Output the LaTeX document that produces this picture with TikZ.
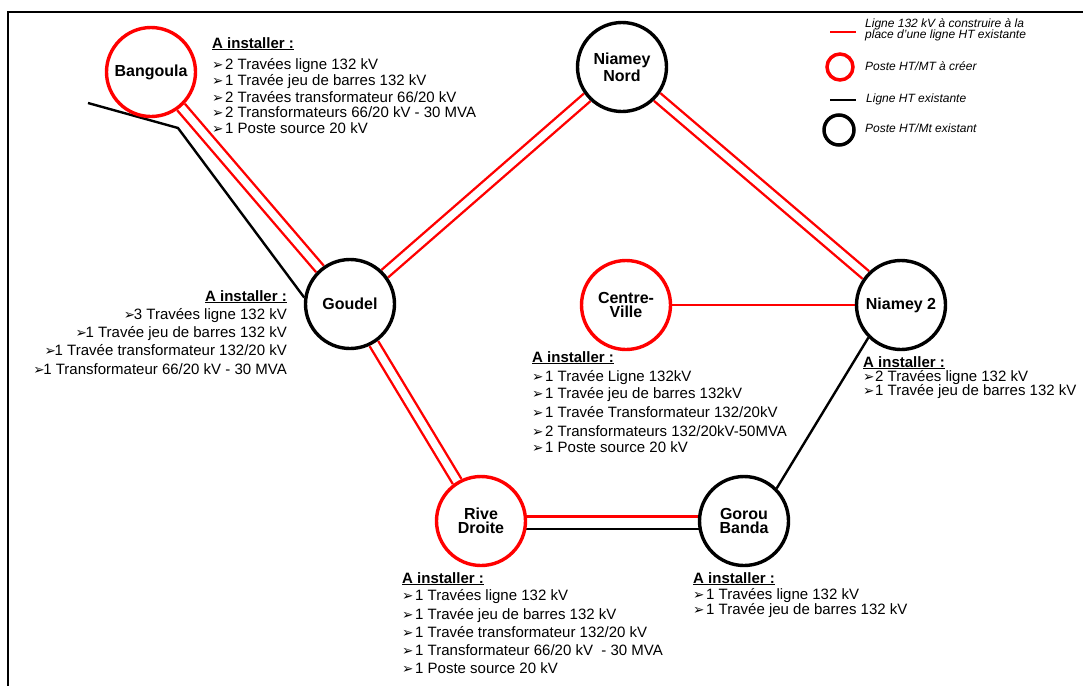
\documentclass[tikz,border=0pt]{standalone}
\usepackage{fontspec}
\setmainfont{Liberation Sans}
\newfontfamily\dejavu{DejaVu Sans}
\usetikzlibrary{backgrounds}
\newcommand{\arrglyph}{{\dejavu\fontsize{13.5}{13.5}\selectfont ➢}}
\newcommand{\itemarrow}[2][13pt]{\makebox[#1][l]{\arrglyph}#2}
\begin{document}
\begin{tikzpicture}[x=1pt,y=-1pt,
  station/.style={circle, line width=3.4pt, fill=white, minimum size=89pt, inner sep=0pt, align=center, font=\bfseries\fontsize{16}{14.5}\selectfont},
  newst/.style={station, draw=red},
  oldst/.style={station, draw=black},
  redl/.style={draw=red, line width=2.4pt},
  blackl/.style={draw=black, line width=2.4pt},
  dbl/.style={draw=red, line width=2.4pt, double=white, double distance=7.5pt},
  ttl/.style={anchor=base west, inner sep=0pt, font=\bfseries\fontsize{15}{15}\selectfont},
  ttlr/.style={ttl, anchor=base east},
  itm/.style={anchor=base west, inner sep=0pt, font=\fontsize{15}{15}\selectfont},
  itmr/.style={itm, anchor=base east},
  leg/.style={anchor=base west, inner sep=0pt, font=\itshape\fontsize{12}{12}\selectfont}]
\useasboundingbox (0,0) rectangle (1083,686);
% frame
\coordinate (fr1) at (1083,12);
\coordinate (fr2) at (8,12);
\coordinate (fr3) at (8,686);
\draw[line width=2pt] (fr1) -- (fr2) -- (fr3);

% stations
\node[newst] (BG) at (151,72) {Bangoula};
\node[oldst, font=\bfseries\fontsize{16}{17}\selectfont] (NN) at (622,67) {Niamey\\Nord};
\node[oldst] (GO) at (350,304) {Goudel};
\node[newst] (CV) at (626,305) {Centre-\\Ville};
\node[oldst] (N2) at (901,305) {Niamey 2};
\node[newst] (RD) at (481,521) {Rive\\Droite};
\node[oldst] (GB) at (744,521) {Gorou\\Banda};

\coordinate (b1) at (88,103);
\coordinate (b2) at (178,128);

\begin{pgfonlayer}{background}
\draw[dbl] (BG) -- (GO);
\draw[dbl] (GO) -- (NN);
\draw[dbl] (NN) -- (N2);
\draw[dbl] (GO) -- (RD);
\draw[redl] (CV) -- (N2);
\draw[redl] ([yshift=4.5pt]RD.center) -- ([yshift=4.5pt]GB.center);
\draw[blackl] ([yshift=-8pt]RD.center) -- ([yshift=-8pt]GB.center);
\draw[blackl] (GB.45) -- (N2.225);
\draw[blackl] (b1) -- (b2) -- (GO.172);
\end{pgfonlayer}

% legend
\coordinate (l1a) at (830,32); \coordinate (l1b) at (856,32);
\draw[redl] (l1a) -- (l1b);
\node[circle, draw=red, line width=3.5pt, minimum size=26pt, inner sep=0pt] (lg2) at (840,67) {};
\coordinate (l3a) at (830,100); \coordinate (l3b) at (856,100);
\draw[blackl] (l3a) -- (l3b);
\node[circle, draw=black, line width=3.5pt, minimum size=30pt, inner sep=0pt] (lg4) at (839,130) {};
\node[leg] (lt1) at (865,27) {Ligne 132 kV à construire à la};
\node[leg] (lt1b) at (865,38) {place d’une ligne HT existante};
\node[leg] (lt2) at (865,70) {Poste HT/MT à créer};
\node[leg] (lt3) at (866,102) {Ligne HT existante};
\node[leg] (lt4) at (865,132) {Poste HT/Mt existant};

% Bangoula
\node[ttl] (bgT) at (212,48) {\underline{A installer :}};
\node[itm] (bg1) at (212,69) {\itemarrow{2 Travées ligne 132 kV}};
\node[itm] (bg2) at (212,85) {\itemarrow{1 Travée jeu de barres 132 kV}};
\node[itm] (bg3) at (212,102) {\itemarrow{2 Travées transformateur 66/20 kV}};
\node[itm] (bg4) at (212,117) {\itemarrow{2 Transformateurs 66/20 kV - 30 MVA}};
\node[itm] (bg5) at (212,133) {\itemarrow{1 Poste source 20 kV}};

% Goudel
\node[ttlr] (goT) at (287,301) {\underline{A installer :}};
\node[itmr] (go1) at (287,319) {\itemarrow[10pt]{3 Travées ligne 132 kV}};
\node[itmr] (go2) at (287,337) {\itemarrow[10pt]{1 Travée jeu de barres 132 kV}};
\node[itmr] (go3) at (287,355) {\itemarrow[10pt]{1 Travée transformateur 132/20 kV}};
\node[itmr] (go4) at (287,374) {\itemarrow[10pt]{1 Transformateur 66/20 kV - 30 MVA}};

% Centre-Ville
\node[ttl] (cvT) at (532,362) {\underline{A installer :}};
\node[itm] (cv1) at (532,381) {\itemarrow{1 Travée Ligne 132kV}};
\node[itm] (cv2) at (532,398) {\itemarrow{1 Travée jeu de barres 132kV}};
\node[itm] (cv3) at (532,417) {\itemarrow{1 Travée Transformateur 132/20kV}};
\node[itm] (cv4) at (532,436) {\itemarrow{2 Transformateurs 132/20kV-50MVA}};
\node[itm] (cv5) at (532,452) {\itemarrow{1 Poste source 20 kV}};

% Niamey 2
\node[ttl] (n2T) at (863,367) {\underline{A installer :}};
\node[itm] (n21) at (863,381) {\itemarrow[12pt]{2 Travées ligne 132 kV}};
\node[itm] (n22) at (863,395) {\itemarrow[12pt]{1 Travée jeu de barres 132 kV}};

% Rive Droite
\node[ttl] (rdT) at (402,583) {\underline{A installer :}};
\node[itm] (rd1) at (402,600) {\itemarrow{1 Travées ligne 132 kV}};
\node[itm] (rd2) at (402,619) {\itemarrow{1 Travée jeu de barres 132 kV}};
\node[itm] (rd3) at (402,637) {\itemarrow{1 Travée transformateur 132/20 kV}};
\node[itm] (rd4) at (402,655) {\itemarrow{1 Transformateur 66/20 kV\ \ - 30 MVA}};
\node[itm] (rd5) at (402,673) {\itemarrow{1 Poste source 20 kV}};

% Gorou Banda
\node[ttl] (gbT) at (693,583) {\underline{A installer :}};
\node[itm] (gb1) at (693,599) {\itemarrow{1 Travées ligne 132 kV}};
\node[itm] (gb2) at (693,614) {\itemarrow{1 Travée jeu de barres 132 kV}};
\end{tikzpicture}
\end{document}
